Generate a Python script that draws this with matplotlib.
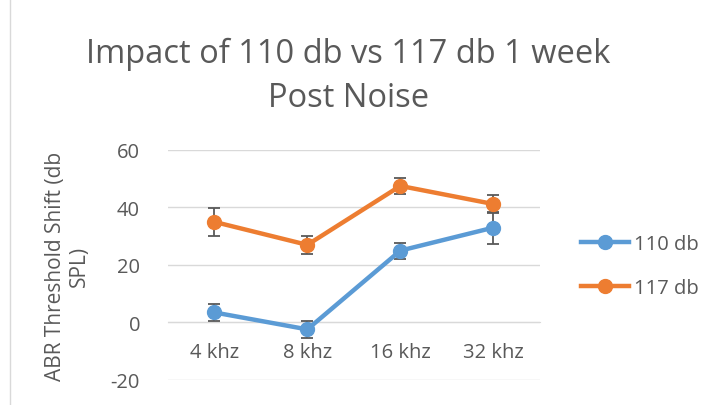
import matplotlib
matplotlib.use("Agg")
import matplotlib.pyplot as plt
from matplotlib.lines import Line2D

categories = ["4 khz", "8 khz", "16 khz", "32 khz"]
s110 = [3.5, -2.4, 25.0, 33.0]
s110_err = [3.0, 3.0, 2.8, 5.6]
s117 = [35.0, 27.0, 47.5, 41.2]
s117_err = [4.9, 3.1, 2.7, 3.2]
yticks = [-20, 0, 20, 40, 60]

plt.rcParams['font.family'] = ['Open Sans', 'DejaVu Sans']
fig = plt.figure(figsize=(7.17, 4.06), dpi=100)
ax = fig.add_axes([0.234, 0.0616, 0.519, 0.5665])

blue = '#5B9BD5'
orange = '#ED7D31'
x = list(range(len(categories)))
for vals, err, col, lab in [(s110, s110_err, blue, '110 db'), (s117, s117_err, orange, '117 db')]:
    ax.errorbar(x, vals, yerr=err, color=col, lw=3.2, marker='o', ms=10,
                ecolor='#595959', elinewidth=1.3, capsize=4, capthick=1.3, label=lab, zorder=3)

ax.set_xlim(-0.5, 3.5)
ax.set_ylim(-20, 60)
ax.set_yticks(yticks)
ax.set_yticklabels([str(t) for t in yticks], fontsize=14.5, color='#595959')
ax.grid(axis='y', color='#D9D9D9', lw=1)
ax.set_axisbelow(True)
for s in ['top', 'right', 'left']:
    ax.spines[s].set_visible(False)
ax.spines['bottom'].set_position(('data', 0))
ax.spines['bottom'].set_color('#D9D9D9')
ax.set_xticks(x)
ax.set_xticklabels(categories, fontsize=14.5, color='#595959')
ax.tick_params(axis='x', length=0, pad=14)
ax.tick_params(axis='y', length=0, pad=20)

ax.set_ylabel("ABR Threshold Shift (db\nSPL)", fontsize=15, color='#595959', labelpad=15,
              linespacing=1.2)

fig.text(0.486, 0.811, "Impact of 110 db vs 117 db 1 week\nPost Noise", ha='center', va='center',
         fontsize=23.5, color='#595959', linespacing=1.43)

handles = [Line2D([0], [0], color=blue, lw=3.2, marker='o', ms=10),
           Line2D([0], [0], color=orange, lw=3.2, marker='o', ms=10)]
fig.legend(handles, ['110 db', '117 db'], loc='center left', bbox_to_anchor=(0.785, 0.343),
           frameon=False, fontsize=14.5, labelcolor='#595959', handlelength=2.4,
           labelspacing=1.2, handletextpad=0.25)

fig.add_artist(Line2D([0.014, 0.014], [0, 1], transform=fig.transFigure, color='#D9D9D9', lw=1))

fig.savefig("out.png", dpi=100)
